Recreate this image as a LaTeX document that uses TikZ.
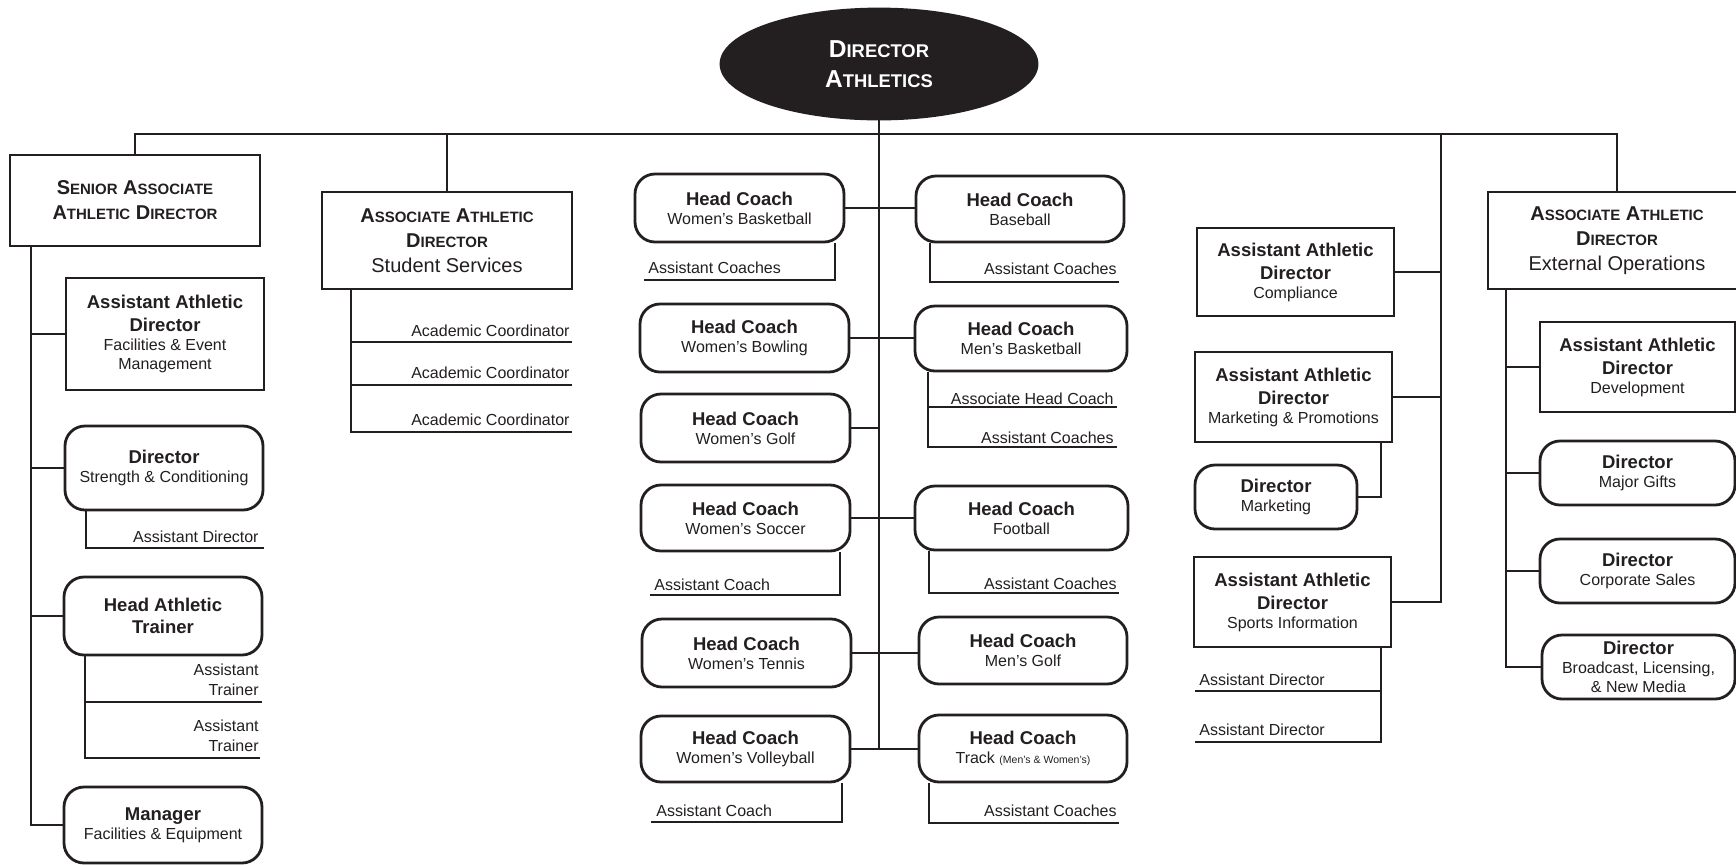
\documentclass[tikz,border=0pt]{standalone}
\usepackage{fontspec}
\setmainfont{Liberation Sans}
\usetikzlibrary{shapes.geometric}
\definecolor{ink}{RGB}{35,31,32}
\newcommand\bl[1]{{\fontsize{9.25}{11}\selectfont\bfseries #1}}
\newcommand\smc[2]{#1{\fontsize{7.5}{9}\selectfont #2}}
\newcommand\smcE[2]{#1{\fontsize{9.2}{11}\selectfont #2}}
\newcommand\bx[7]{\node[#2, minimum width={(#5-#3)*0.5pt}, minimum height={(#6-#4)*0.5pt}] (#1) at ({(#3+#5)/2},{(#4+#6)/2}) {#7};}
\tikzset{
 sq/.style={draw, inner sep=0pt, align=center, font=\fontsize{8}{9.5}\selectfont},
 rd/.style={sq, rounded corners=10pt},
 hd/.style={sq, font=\fontsize{10}{12.5}\selectfont\bfseries},
 lblr/.style={inner sep=0pt, font=\fontsize{8}{10}\selectfont, anchor=base east, align=right},
 lbll/.style={inner sep=0pt, font=\fontsize{8}{10}\selectfont, anchor=base west},
}
\begin{document}
\begin{tikzpicture}[x=0.5pt,y=-0.5pt,line width=1.4pt,color=ink]
\useasboundingbox (0,0) rectangle (1736,864);
\clip (0,0) rectangle (1736,864);
\fill[white] (0,0) rectangle (1736,864);

% top
\node[ellipse, fill=ink, draw=ink, text=white, minimum width=158pt, minimum height=55pt, inner sep=0pt, align=center, font=\fontsize{12.25}{15}\selectfont\bfseries] (dir) at (879,64) {\smcE{D}{IRECTOR}\\\smcE{A}{THLETICS}};
\coordinate (bus) at (879,134);
\coordinate (Csp) at (1441,134);

% left column
\bx{sen}{hd}{10}{155}{260}{246}{\smc{S}{ENIOR} \smc{A}{SSOCIATE}\\\smc{A}{THLETIC} \smc{D}{IRECTOR}}
\bx{afe}{sq}{66}{278}{264}{390}{\bl{Assistant Athletic}\\[2pt]\bl{Director}\\Facilities \& Event\\Management}
\bx{sc}{rd}{65}{426}{263}{510}{\bl{Director}\\Strength \& Conditioning}
\bx{hat}{rd}{64}{577}{262}{655}{\bl{Head Athletic}\\[1.5pt]\bl{Trainer}}
\bx{mgr}{rd}{64}{787}{262}{863}{\bl{Manager}\\Facilities \& Equipment}

% student services
\bx{ss}{hd}{322}{192}{572}{289}{\smc{A}{SSOCIATE} \smc{A}{THLETIC}\\\smc{D}{IRECTOR}\\{\mdseries\fontsize{10}{12.5}\selectfont Student Services}}

% coaches
\bx{wbb}{rd}{635}{174}{844}{242}{\bl{Head Coach}\\Women’s Basketball}
\bx{bb}{rd}{916}{176}{1124}{242}{\bl{Head Coach}\\Baseball}
\bx{wbo}{rd}{640}{304}{849}{372}{\bl{Head Coach}\\Women’s Bowling}
\bx{mbb}{rd}{915}{306}{1127}{371}{\bl{Head Coach}\\Men’s Basketball}
\bx{wgo}{rd}{641}{394}{850}{462}{\bl{Head Coach}\\Women’s Golf}
\bx{wso}{rd}{641}{485}{850}{551}{\bl{Head Coach}\\Women’s Soccer}
\bx{fb}{rd}{915}{486}{1128}{550}{\bl{Head Coach}\\Football}
\bx{wte}{rd}{642}{619}{851}{687}{\bl{Head Coach}\\Women’s Tennis}
\bx{mgo}{rd}{919}{617}{1127}{684}{\bl{Head Coach}\\Men’s Golf}
\bx{wvb}{rd}{641}{716}{850}{782}{\bl{Head Coach}\\Women’s Volleyball}
\bx{tr}{rd}{919}{715}{1127}{782}{\bl{Head Coach}\\Track {\fontsize{5.25}{6}\selectfont (Men’s \& Women’s)}}

% right-centre column
\bx{comp}{sq}{1197}{228}{1394}{316}{\bl{Assistant Athletic}\\[2pt]\bl{Director}\\Compliance}
\bx{mp}{sq}{1195}{352}{1392}{442}{\bl{Assistant Athletic}\\[2pt]\bl{Director}\\Marketing \& Promotions}
\bx{dm}{rd}{1195}{465}{1357}{529}{\bl{Director}\\Marketing}
\bx{si}{sq}{1194}{557}{1391}{647}{\bl{Assistant Athletic}\\[2pt]\bl{Director}\\Sports Information}

% external operations
\bx{ext}{hd}{1488}{192}{1746}{289}{\smc{A}{SSOCIATE} \smc{A}{THLETIC}\\\smc{D}{IRECTOR}\\{\mdseries\fontsize{10}{12.5}\selectfont External Operations}}
\bx{dev}{sq}{1540}{322}{1735}{412}{\bl{Assistant Athletic}\\[2pt]\bl{Director}\\Development}
\bx{mg}{rd}{1540}{441}{1735}{505}{\bl{Director}\\Major Gifts}
\bx{cs}{rd}{1540}{539}{1735}{603}{\bl{Director}\\Corporate Sales}
\bx{bc}{rd}{1542}{635}{1735}{699}{\bl{Director}\\Broadcast, Licensing,\\\& New Media}

% main bus
\draw (sen.north) |- (bus) -| (ext.north);
\draw (ss.north) -- (ss.north |- bus);
\draw (dir.south) -- (dir.south |- wvb.east);
\draw (Csp) |- (si.east);
\draw (Csp |- comp.east) -- (comp.east);
\draw (Csp |- mp.east) -- (mp.east);

% left spine
\draw (31,0 |- sen.south) |- (mgr.west);
\draw (31,0 |- afe.west) -- (afe.west);
\draw (31,0 |- sc.west) -- (sc.west);
\draw (31,0 |- hat.west) -- (hat.west);

% S&C sub
\coordinate (scA) at (264,548);
\draw (86,0 |- sc.south) |- (scA);
\node[lblr] (scL) at (260,542) {Assistant Director};
% trainer sub
\coordinate (hatA) at (262,702);
\coordinate (hatB) at (260,758);
\draw (85,0 |- hat.south) |- (hatB);
\draw (85,0 |- hatA) -- (hatA);
\node[lblr, anchor=south east] (hatL1) at (260,697) {Assistant\\Trainer};
\node[lblr, anchor=south east] (hatL2) at (260,753) {Assistant\\Trainer};

% student services sub
\coordinate (ssA) at (572,342);
\coordinate (ssB) at (572,385);
\coordinate (ssC) at (572,432);
\draw (351,0 |- ss.south) |- (ssC);
\draw (351,0 |- ssA) -- (ssA);
\draw (351,0 |- ssB) -- (ssB);
\node[lblr] (ssL1) at (571,336) {Academic Coordinator};
\node[lblr] (ssL2) at (571,378) {Academic Coordinator};
\node[lblr] (ssL3) at (571,425) {Academic Coordinator};

% coach rows
\draw (wbb.east) -- (wbb.east -| bb.west);
\draw (wbo.east) -- (wbo.east -| mbb.west);
\draw (wgo.east) -- (wgo.east -| dir.south);
\draw (wso.east) -- (wso.east -| fb.west);
\draw (wte.east) -- (wte.east -| mgo.west);
\draw (wvb.east) -- (wvb.east -| tr.west);

% coach subs
\coordinate (wbbA) at (644,280);
\draw (835,0 |- wbb.south) |- (wbbA);
\node[lbll] (wbbL) at (647,273) {Assistant Coaches};
\coordinate (bbA) at (1119,282);
\draw (930,0 |- bb.south) |- (bbA);
\node[lblr] (bbL) at (1118,274) {Assistant Coaches};
\coordinate (mbbA) at (1117,407);
\coordinate (mbbB) at (1117,447);
\draw (928,0 |- mbb.south) |- (mbbB);
\draw (928,0 |- mbbA) -- (mbbA);
\node[lblr] (mbbL1) at (1115,404) {Associate Head Coach};
\node[lblr] (mbbL2) at (1115,443) {Assistant Coaches};
\coordinate (wsoA) at (650,595);
\draw (840,0 |- wso.south) |- (wsoA);
\node[lbll] (wsoL) at (653,590) {Assistant Coach};
\coordinate (fbA) at (1119,593);
\draw (929,0 |- fb.south) |- (fbA);
\node[lblr] (fbL) at (1118,589) {Assistant Coaches};
\coordinate (wvbA) at (651,822);
\draw (842,0 |- wvb.south) |- (wvbA);
\node[lbll] (wvbL) at (655,816) {Assistant Coach};
\coordinate (trA) at (1119,823);
\draw (929,0 |- tr.south) |- (trA);
\node[lblr] (trL) at (1118,816) {Assistant Coaches};

% marketing / sports info subs
\draw (1381,0 |- mp.south) |- (dm.east);
\coordinate (siA) at (1195,691);
\coordinate (siB) at (1195,742);
\draw (1381,0 |- si.south) |- (siB);
\draw (1381,0 |- siA) -- (siA);
\node[lbll] (siL1) at (1198,685) {Assistant Director};
\node[lbll] (siL2) at (1198,735) {Assistant Director};

% external spine
\draw (1506,0 |- ext.south) |- (bc.west);
\draw (1506,0 |- dev.west) -- (dev.west);
\draw (1506,0 |- mg.west) -- (mg.west);
\draw (1506,0 |- cs.west) -- (cs.west);
\end{tikzpicture}
\end{document}
